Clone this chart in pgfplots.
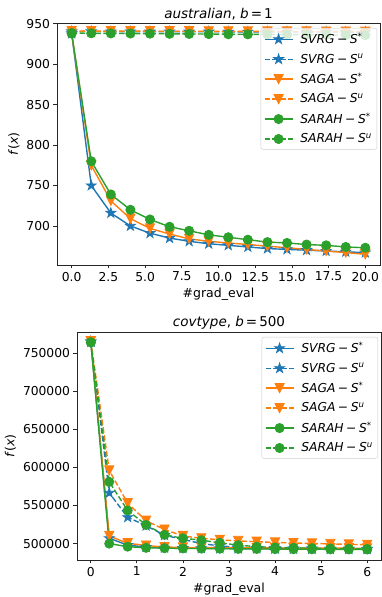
\documentclass[border=0pt]{standalone}
\usepackage{fontspec}
\setmainfont{DejaVu Sans}
\usepackage{pgfplots}
\pgfplotsset{compat=1.18}
\definecolor{tblue}{HTML}{1F77B4}
\definecolor{torange}{HTML}{FF7F0E}
\definecolor{tgreen}{HTML}{2CA02C}
\newcommand{\mm}{\hspace{2.5pt}−\hspace{2.5pt}}
\newcommand{\ent}[1]{\hspace{5pt}#1\hspace{1pt}}
\pgfdeclareplotmark{fstar}{%
  \pgfpathmoveto{\pgfpointpolar{90}{\pgfplotmarksize}}%
  \pgfpathlineto{\pgfpointpolar{126}{0.382\pgfplotmarksize}}%
  \pgfpathlineto{\pgfpointpolar{162}{\pgfplotmarksize}}%
  \pgfpathlineto{\pgfpointpolar{198}{0.382\pgfplotmarksize}}%
  \pgfpathlineto{\pgfpointpolar{234}{\pgfplotmarksize}}%
  \pgfpathlineto{\pgfpointpolar{270}{0.382\pgfplotmarksize}}%
  \pgfpathlineto{\pgfpointpolar{306}{\pgfplotmarksize}}%
  \pgfpathlineto{\pgfpointpolar{342}{0.382\pgfplotmarksize}}%
  \pgfpathlineto{\pgfpointpolar{18}{\pgfplotmarksize}}%
  \pgfpathlineto{\pgfpointpolar{54}{0.382\pgfplotmarksize}}%
  \pgfpathclose\pgfusepathqfillstroke}
\pgfdeclareplotmark{ftri}{%
  \pgfpathmoveto{\pgfpoint{0pt}{-\pgfplotmarksize}}%
  \pgfpathlineto{\pgfpoint{-\pgfplotmarksize}{\pgfplotmarksize}}%
  \pgfpathlineto{\pgfpoint{\pgfplotmarksize}{\pgfplotmarksize}}%
  \pgfpathclose\pgfusepathqfillstroke}
\pgfplotsset{
  mplstyle/.style={
    scale only axis,
    axis line style={black!85, line width=0.8pt},
    tick style={black!85, line width=0.8pt},
    tick align=outside,
    major tick length=3.5pt,
    xtick pos=bottom, ytick pos=left,
    /pgf/number format/assume math mode=true,
    /pgf/number format/1000 sep={},
    ticklabel style={font=\fontsize{12.3}{14}\selectfont},
    label style={font=\fontsize{12.5}{14}\selectfont},
    title style={font=\fontsize{13.5}{15}\selectfont, yshift=-7pt},
    ylabel={\textit{f}(\textit{x})},
    xlabel={\#grad\_eval},
    scaled ticks=false,
    legend cell align=left,
    legend style={at={(1,1)}, anchor=north east, xshift=-3pt, yshift=-5pt, fill=white, fill opacity=0.8, draw opacity=1, text opacity=1,
      draw=black!20, rounded corners=2pt, font=\fontsize{12.3}{14}\selectfont\itshape,
      row sep=4.5pt, inner sep=3pt},
    legend image code/.code={\draw[mark repeat=2,mark phase=2,fill opacity=1] plot coordinates {(0pt,0pt) (14pt,0pt) (28pt,0pt)};},
  },
  sstar/.style={solid, line width=1.4pt},
  sdash/.style={line width=1.4pt, dash pattern=on 5.5pt off 2.4pt},
  mstar/.style={mark=fstar, mark size=5.2pt, mark options={solid, fill=tblue, line width=0.8pt}},
  mtri/.style={mark=ftri, mark size=4.6pt, mark options={solid, fill=torange, line width=0.8pt}},
  mcirc/.style={mark=*, mark size=4.6pt, mark options={solid, fill=tgreen, line width=0.8pt}},
}
\begin{document}
\begin{tikzpicture}
\useasboundingbox (0,0) rectangle (381pt,597pt);
\begin{axis}[mplstyle, at={(57pt,332pt)}, anchor=south west, width=323pt, height=242pt,
  xmin=-1, xmax=21, ymin=651.7, ymax=951,
  xtick={0,2.5,5,7.5,10,12.5,15,17.5,20},
  ytick={700,750,800,850,900,950},
  xticklabel style={/pgf/number format/.cd, fixed, fixed zerofill, precision=1},
  title={\textit{australian}, \textit{b}\hspace{2pt}=\hspace{2pt}1}]
\addplot[tblue, sstar, mstar] coordinates {(0,938) (1.3333,750) (2.6667,716) (4,700) (5.3333,691) (6.6667,685) (8,681) (9.3333,678) (10.6667,676) (12,674) (13.3333,672) (14.6667,671) (16,670) (17.3333,669) (18.6667,668) (20,667)};
\addlegendentry{\ent{SVRG\mm S\textsuperscript{\upshape *}}}
\addplot[tblue, sdash, mstar] coordinates {(0,940.5) (1.3333,940.5) (2.6667,940.4) (4,940.4) (5.3333,940.3) (6.6667,940.3) (8,940.2) (9.3333,940.2) (10.6667,940.1) (12,940.1) (13.3333,940) (14.6667,940) (16,939.9) (17.3333,939.9) (18.6667,939.8) (20,939.8)};
\addlegendentry{\ent{SVRG\mm S\textsuperscript{u}}}
\addplot[torange, sstar, mtri] coordinates {(0,938) (1.3333,775) (2.6667,731) (4,709) (5.3333,697) (6.6667,690) (8,684) (9.3333,681) (10.6667,679) (12,677) (13.3333,675) (14.6667,673) (16,671) (17.3333,669) (18.6667,667) (20,665)};
\addlegendentry{\ent{SAGA\mm S\textsuperscript{\upshape *}}}
\addplot[torange, sdash, mtri] coordinates {(0,941) (1.3333,941) (2.6667,941) (4,940.9) (5.3333,940.9) (6.6667,940.8) (8,940.8) (9.3333,940.7) (10.6667,940.7) (12,940.6) (13.3333,940.6) (14.6667,940.5) (16,940.5) (17.3333,940.4) (18.6667,940.4) (20,940.3)};
\addlegendentry{\ent{SAGA\mm S\textsuperscript{u}}}
\addplot[tgreen, sstar, mcirc] coordinates {(0,938) (1.3333,780) (2.6667,739) (4,720) (5.3333,708) (6.6667,699) (8,694) (9.3333,689) (10.6667,686) (12,683) (13.3333,680) (14.6667,679) (16,677) (17.3333,676) (18.6667,674) (20,673)};
\addlegendentry{\ent{SARAH\mm S\textsuperscript{\upshape *}}}
\addplot[tgreen, sdash, mcirc] coordinates {(0,938.5) (1.3333,938.3) (2.6667,938.1) (4,938) (5.3333,937.8) (6.6667,937.6) (8,937.5) (9.3333,937.3) (10.6667,937.1) (12,937) (13.3333,936.8) (14.6667,936.6) (16,936.5) (17.3333,936.3) (18.6667,936.1) (20,936)};
\addlegendentry{\ent{SARAH\mm S\textsuperscript{u}}}
\end{axis}
\begin{axis}[mplstyle, at={(77pt,37pt)}, anchor=south west, width=304pt, height=228pt,
  xmin=-0.3, xmax=6.3, ymin=478500, ymax=777600,
  xtick={0,1,2,3,4,5,6},
  ytick={500000,550000,600000,650000,700000,750000},
  yticklabel style={/pgf/number format/.cd, fixed, precision=0},
  title={\textit{covtype}, \textit{b}\hspace{2pt}=\hspace{2pt}500}]
\addplot[tblue, sstar, mstar] coordinates {(0,765000) (0.4,507000) (0.8,498000) (1.2,495500) (1.6,494500) (2.0,494000) (2.4,493800) (2.8,493600) (3.2,493500) (3.6,493400) (4.0,493300) (4.4,493200) (4.8,493100) (5.2,493000) (5.6,493000) (6.0,492900)};
\addlegendentry{\ent{SVRG\mm S\textsuperscript{\upshape *}}}
\addplot[tblue, sdash, mstar] coordinates {(0,765000) (0.4,566500) (0.8,534500) (1.2,523500) (1.6,511000) (2.0,505500) (2.4,500000) (2.8,497000) (3.2,495000) (3.6,494200) (4.0,493800) (4.4,493500) (4.8,493300) (5.2,493200) (5.6,493100) (6.0,493000)};
\addlegendentry{\ent{SVRG\mm S\textsuperscript{u}}}
\addplot[torange, sstar, mtri] coordinates {(0,765500) (0.4,510000) (0.8,500500) (1.2,497500) (1.6,495500) (2.0,495000) (2.4,494800) (2.8,494600) (3.2,494500) (3.6,494400) (4.0,494300) (4.4,494200) (4.8,494100) (5.2,494000) (5.6,494000) (6.0,493900)};
\addlegendentry{\ent{SAGA\mm S\textsuperscript{\upshape *}}}
\addplot[torange, sdash, mtri] coordinates {(0,765500) (0.4,596000) (0.8,553000) (1.2,530000) (1.6,518500) (2.0,510000) (2.4,507000) (2.8,505000) (3.2,503500) (3.6,502500) (4.0,501500) (4.4,500800) (4.8,500200) (5.2,499600) (5.6,499000) (6.0,498500)};
\addlegendentry{\ent{SAGA\mm S\textsuperscript{u}}}
\addplot[tgreen, sstar, mcirc] coordinates {(0,764000) (0.4,500000) (0.8,496000) (1.2,494500) (1.6,494000) (2.0,493700) (2.4,493500) (2.8,493300) (3.2,493100) (3.6,493000) (4.0,492800) (4.4,492700) (4.8,492600) (5.2,492500) (5.6,492400) (6.0,492300)};
\addlegendentry{\ent{SARAH\mm S\textsuperscript{\upshape *}}}
\addplot[tgreen, sdash, mcirc] coordinates {(0,764000) (0.4,581000) (0.8,543500) (1.2,524500) (1.6,511500) (2.0,507000) (2.4,504500) (2.8,501000) (3.2,498000) (3.6,496000) (4.0,495000) (4.4,494500) (4.8,494000) (5.2,493600) (5.6,493300) (6.0,493000)};
\addlegendentry{\ent{SARAH\mm S\textsuperscript{u}}}
\end{axis}
\end{tikzpicture}
\end{document}
